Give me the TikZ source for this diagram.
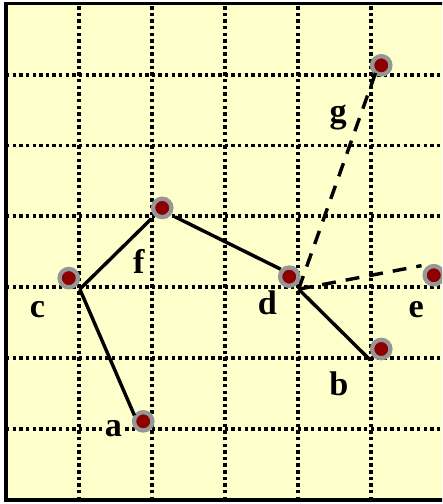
\documentclass[tikz,border=0pt]{standalone}
\usepackage{fontspec}
\setmainfont{Liberation Serif}

\definecolor{paper}{RGB}{255,255,204}
\definecolor{dotred}{RGB}{140,0,0}
\definecolor{dotring}{RGB}{150,150,150}

\begin{document}
\begin{tikzpicture}[x=1.2cm, y=1.1655cm,
        gridline/.style={line width=1.8pt, dash pattern=on 1.6pt off 1.5pt},
        vtx/.style={circle, draw=dotring, line width=2pt, fill=dotred,
                    minimum size=8.6pt, inner sep=0pt, outer sep=3pt},
        link/.style={line width=1.6pt},
        dlink/.style={line width=1.6pt, dash pattern=on 6.5pt off 4.7pt},
        lab/.style={font=\fontsize{16}{18}\selectfont\bfseries, anchor=base,
                    fill=paper, inner sep=0.5pt}]
      \clip (-0.082,-0.056) rectangle (5.973,7.052);
      \fill[white] (-0.082,-0.056) rectangle (5.973,7.052);
      \fill[paper] (0,0) rectangle (6.2,7);
      \foreach \x in {1,...,5} \draw[gridline] (\x,0) -- (\x,7);
      \foreach \y in {1,...,6} \draw[gridline] (0,\y) -- (6.2,\y);
      \draw[line width=1.7pt] (6.2,7) -- (0,7) -- (0,0) -- (6.2,0);
      \node[vtx] (g) at (5.14,6.13) {};
      \node[vtx] (f) at (2.14,4.12) {};
      \node[vtx] (c) at (0.86,3.13) {};
      \node[vtx] (a) at (1.88,1.11) {};
      \node[vtx] (d) at (3.88,3.15) {};
      \node[vtx] (b) at (5.14,2.13) {};
      \node[vtx] (e) at (5.86,3.17) {};
      \draw[link] (c.-45) -- (f.-135);
      \draw[link, shorten >=-2.6pt] (c.-45) -- (a.135);
      \draw[link, shorten >=-2pt] (f.-35) -- (d.143);
      \draw[link] (d.-53) -- (b.-135);
      \draw[dlink, shorten >=-5.7pt] (d.-53) -- (g.-120);
      \draw[dlink] (d.-53) -- (e.142);
      \node[lab] (lc) at (0.43,2.58) {c};
      \node[lab] (lf) at (1.82,3.20) {f};
      \node[lab] (ld) at (3.58,2.61) {d};
      \node[lab] (le) at (5.62,2.58) {e};
      \node[lab] (lb) at (4.56,1.48) {b};
      \node[lab] (lg) at (4.55,5.33) {g};
      \node[lab] (la) at (1.47,0.89) {a};
    \end{tikzpicture}
\end{document}
